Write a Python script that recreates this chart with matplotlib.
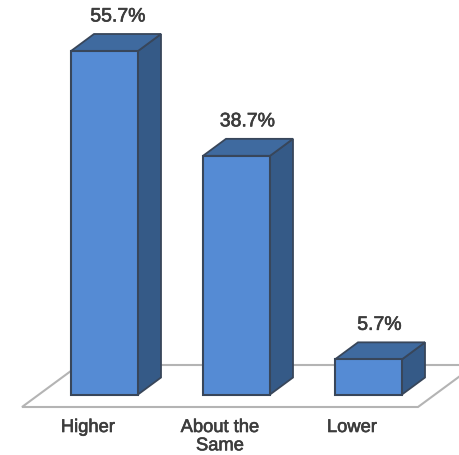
import matplotlib
matplotlib.use("Agg")
import matplotlib.pyplot as plt
import matplotlib.patheffects as pe
from matplotlib.patches import Polygon

plt.rcParams['font.family'] = ['Liberation Sans', 'DejaVu Sans']

categories = ["Higher", "About the\nSame", "Lower"]
values = [55.7, 38.7, 5.7]
value_labels = ["55.7%", "38.7%", "5.7%"]

W, H = 460, 455
X_STEP = 132.0      # pixels between category centres
Y_UNIT = 6.167      # pixels per percentage point
X0_PX, Y0_PX = 104.5, 394.5
PT = 0.72           # points per pixel at 100 dpi

fig = plt.figure(figsize=(W / 100, H / 100), dpi=100, facecolor="white")
ax = fig.add_axes([0, 0, 1, 1])
ax.set_xlim(-X0_PX / X_STEP, (W - X0_PX) / X_STEP)
ax.set_ylim(-(H - Y0_PX) / Y_UNIT, Y0_PX / Y_UNIT)
ax.axis("off")

bar_w = 67 / X_STEP
depth_x = 23 / X_STEP
depth_y = 17 / Y_UNIT

FRONT = "#558bd4"
SIDE = "#355a87"
TOP = "#3f6a9f"
EDGE = "#38465a"
FLOOR = "#b4b4b4"
TEXT = "#3c3c3c"
heavy = [pe.withStroke(linewidth=0.45, foreground=TEXT)]
label_shift_px = [13.5, 11, 11]

# Floor parallelogram, extending past the right edge of the canvas
fl, fr = -82.5 / X_STEP, 313.5 / X_STEP
fy = -12.5 / Y_UNIT
fdy = 42 / Y_UNIT
fdx = 57 / X_STEP
ax.add_patch(Polygon([(fl, fy), (fr, fy), (fr + fdx, fy + fdy), (fl + fdx, fy + fdy)],
                     closed=True, facecolor="white", edgecolor=FLOOR, lw=1.5, zorder=1))

for i, (cat, v, lab) in enumerate(zip(categories, values, value_labels)):
    x0, x1 = i - bar_w / 2, i + bar_w / 2
    ax.add_patch(Polygon([(x1, 0), (x1 + depth_x, depth_y), (x1 + depth_x, v + depth_y), (x1, v)],
                         closed=True, facecolor=SIDE, edgecolor=EDGE, lw=1.3, zorder=3))
    ax.add_patch(Polygon([(x0, v), (x1, v), (x1 + depth_x, v + depth_y), (x0 + depth_x, v + depth_y)],
                         closed=True, facecolor=TOP, edgecolor=EDGE, lw=1.3, zorder=3))
    ax.bar(i, v, width=bar_w, color=FRONT, edgecolor=EDGE, lw=1.5, zorder=4)
    ax.annotate(lab, (i, v), xytext=(label_shift_px[i] * PT, 34 * PT), textcoords="offset points",
                ha="center", va="center", fontsize=14, color=TEXT, zorder=5,
                path_effects=heavy)
    ax.annotate(cat, (i, 0), xytext=(-16.5 * PT, -24.5 * PT), textcoords="offset points",
                ha="center", va="top", fontsize=13.2, color=TEXT, linespacing=1.1, zorder=5,
                path_effects=heavy)

fig.savefig("out.png", dpi=100, facecolor="white")
